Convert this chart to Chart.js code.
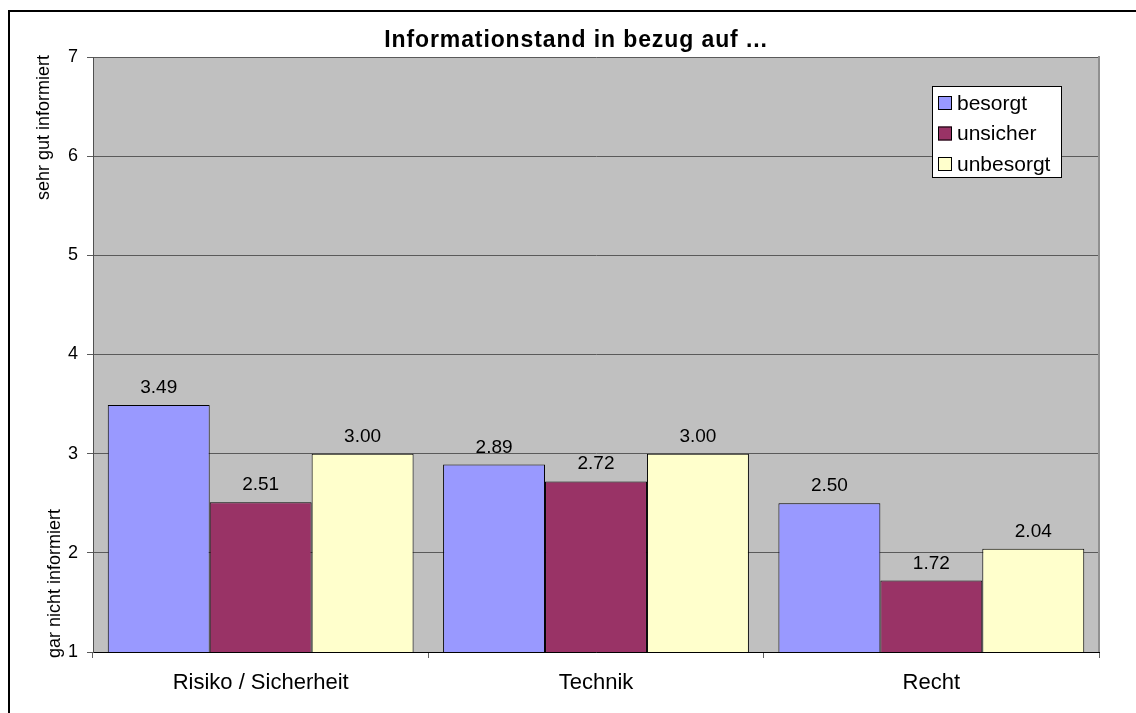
<!DOCTYPE html>
<html>
<head>
<meta charset="utf-8">
<title>Informationstand in bezug auf ...</title>
<script src="https://cdn.jsdelivr.net/npm/chart.js@4"></script>
<style>
    html, body { margin: 0; padding: 0; background: #fff; overflow: hidden; }
    #wrap { position: relative; width: 1136px; height: 713px; }
    #frame {
        position: absolute; left: 8px; top: 10px; width: 1140px; height: 720px;
        border-top: 2px solid #000; border-left: 2px solid #000;
    }
    canvas { position: absolute; left: 0; top: 0; }
</style>
</head>
<body>
<div id="wrap">
    <div id="frame"></div>
    <canvas id="chart" width="1136" height="713"></canvas>
</div>
<script>
// chart data
const categories = ['Risiko / Sicherheit', 'Technik', 'Recht'];
const besorgt = [3.49, 2.89, 2.50];
const unsicher = [2.51, 2.72, 1.72];
const unbesorgt = [3.00, 3.00, 2.04];
const yTicks = [1, 2, 3, 4, 5, 6, 7];

const titleText = 'Informationstand in bezug auf ...';
const yTopLabel = 'sehr gut informiert';
const yBottomLabel = 'gar nicht informiert';

const FONT = "'Liberation Sans', Arial, sans-serif";

// grey plot area + right edge
const plotArea = {
    id: 'plotArea',
    beforeDraw(chart) {
        const { ctx, chartArea: a } = chart;
        ctx.save();
        ctx.fillStyle = '#c0c0c0';
        ctx.fillRect(a.left, a.top, a.right - a.left, a.bottom - a.top);
        ctx.restore();
    },
    afterDraw(chart) {
        const { ctx, chartArea: a } = chart;
        ctx.save();
        ctx.strokeStyle = '#909090';
        ctx.lineWidth = 2;
        ctx.beginPath();
        ctx.moveTo(a.right, a.top - 1);
        ctx.lineTo(a.right, a.bottom);
        ctx.stroke();
        ctx.restore();
    }
};

// value labels above the bars
const valueLabels = {
    id: 'valueLabels',
    afterDatasetsDraw(chart) {
        const ctx = chart.ctx;
        ctx.save();
        ctx.font = '19px ' + FONT;
        ctx.fillStyle = '#000';
        ctx.textAlign = 'center';
        ctx.textBaseline = 'alphabetic';
        chart.data.datasets.forEach(function(ds, i) {
            chart.getDatasetMeta(i).data.forEach(function(bar, j) {
                ctx.fillText(ds.data[j].toFixed(2), bar.x, bar.y - 12);
            });
        });
        ctx.restore();
    }
};

// title, y-axis captions and the boxed legend
const decorations = {
    id: 'decorations',
    afterDraw(chart) {
        const { ctx, chartArea: a } = chart;
        ctx.save();

        ctx.fillStyle = '#000';
        ctx.font = 'bold 23px ' + FONT;
        ctx.letterSpacing = '0.9px';
        ctx.textAlign = 'center';
        ctx.textBaseline = 'alphabetic';
        ctx.fillText(titleText, (a.left + a.right) / 2 - 20, 47);
        ctx.letterSpacing = '0px';

        // rotated captions
        ctx.font = '18px ' + FONT;
        ctx.save();
        ctx.translate(49, a.top - 2);
        ctx.rotate(-Math.PI / 2);
        ctx.textAlign = 'right';
        ctx.fillText(yTopLabel, 0, 0);
        ctx.restore();

        ctx.save();
        ctx.translate(60, a.bottom + 6);
        ctx.rotate(-Math.PI / 2);
        ctx.textAlign = 'left';
        ctx.fillText(yBottomLabel, 0, 0);
        ctx.restore();

        // legend box
        const boxW = 130, boxH = 92;
        const bx = a.right - 37 - boxW, by = a.top + 29;
        ctx.fillStyle = '#fff';
        ctx.fillRect(bx, by, boxW, boxH);
        ctx.strokeStyle = '#000';
        ctx.lineWidth = 1;
        ctx.strokeRect(bx + 0.5, by + 0.5, boxW - 1, boxH - 1);

        ctx.font = '21px ' + FONT;
        ctx.textAlign = 'left';
        ctx.textBaseline = 'middle';
        chart.data.datasets.forEach(function(ds, i) {
            const cy = by + 17 + i * 30.5;
            ctx.fillStyle = ds.backgroundColor;
            ctx.fillRect(bx + 6, cy - 7, 14, 14);
            ctx.strokeRect(bx + 6.5, cy - 6.5, 13, 13);
            ctx.fillStyle = '#000';
            ctx.fillText(ds.label, bx + 25, cy + 1);
        });

        ctx.restore();
    }
};

new Chart(document.getElementById('chart'), {
    type: 'bar',
    data: {
        labels: categories,
        datasets: [
            { label: 'besorgt', data: besorgt, backgroundColor: '#9999ff' },
            { label: 'unsicher', data: unsicher, backgroundColor: '#993366' },
            { label: 'unbesorgt', data: unbesorgt, backgroundColor: '#ffffcc' }
        ]
    },
    options: {
        responsive: false,
        animation: false,
        devicePixelRatio: 1,
        layout: { padding: { top: 57, right: 37, left: 0, bottom: 0 } },
        datasets: {
            bar: {
                borderColor: '#000',
                borderWidth: 1,
                borderSkipped: false,
                categoryPercentage: 0.912,
                barPercentage: 1
            }
        },
        plugins: {
            legend: { display: false },
            title: { display: false },
            tooltip: { enabled: false }
        },
        scales: {
            x: {
                afterFit: function(scale) { scale.height = 61; },
                grid: {
                    offset: true,
                    drawOnChartArea: false,
                    tickLength: 6,
                    color: '#606060'
                },
                border: { color: '#000', width: 1 },
                ticks: {
                    color: '#000',
                    padding: 12,
                    font: { family: FONT, size: 22 }
                }
            },
            y: {
                min: 1,
                max: 7,
                afterFit: function(scale) { scale.width = 93; },
                afterBuildTicks: function(scale) {
                    scale.ticks = yTicks.map(function(v) { return { value: v }; });
                },
                grid: {
                    color: '#5a5a5a',
                    tickLength: 6
                },
                border: { color: '#505050', width: 1 },
                ticks: {
                    color: '#000',
                    padding: 9,
                    font: { family: FONT, size: 18 }
                }
            }
        }
    },
    plugins: [plotArea, valueLabels, decorations]
});
</script>
</body>
</html>
